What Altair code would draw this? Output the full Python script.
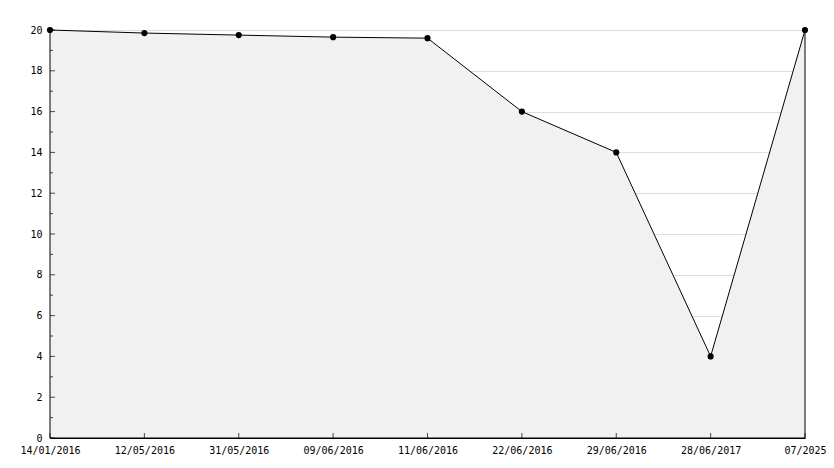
import altair as alt
import pandas as pd

dates = ["14/01/2016", "12/05/2016", "31/05/2016", "09/06/2016", "11/06/2016",
         "22/06/2016", "29/06/2016", "28/06/2017", "07/2025"]
values = [20, 19.85, 19.75, 19.65, 19.6, 16, 14, 4, 20]
major_ticks = [0, 2, 4, 6, 8, 10, 12, 14, 16, 18, 20]
minor_ticks = [1, 3, 5, 7, 9, 11, 13, 15, 17, 19]

df = pd.DataFrame({"date": dates, "value": values})
df_major = pd.DataFrame({"v": major_ticks})
df_minor = pd.DataFrame({"v": minor_ticks})

FONT = "DejaVu Sans Mono"
W, H = 755, 408

xscale = alt.Scale(type="point", padding=0, domain=dates)
yscale = alt.Scale(domain=[0, 20], nice=False, zero=True)

x_enc = alt.X("date:N", sort=None, scale=xscale,
              axis=alt.Axis(title=None, labelAngle=0, tickSize=0, labelPadding=7,
                            labelOverlap=False, labelBound=False, grid=False,
                            domainColor="black", labelColor="black",
                            labelFont=FONT, labelFontSize=10))
y_enc = alt.Y("value:Q", scale=yscale,
              axis=alt.Axis(title=None, values=major_ticks, tickSize=0, labelPadding=8,
                            grid=True, gridColor="#dddddd", domainColor="black",
                            labelColor="black", labelFont=FONT, labelFontSize=10))

area = alt.Chart(df).mark_area(color="#f1f1f1", stroke="black", strokeWidth=1).encode(
    x=x_enc, y=y_enc)
pts = alt.Chart(df).mark_point(filled=True, shape="circle", size=38, color="black", opacity=1).encode(
    x=alt.X("date:N", sort=None, scale=xscale), y=alt.Y("value:Q", scale=yscale))

ymaj = alt.Chart(df_major).mark_tick(orient="horizontal", color="black", thickness=1, size=5).encode(
    y=alt.Y("v:Q", scale=yscale), x=alt.value(2.5))
ymin = alt.Chart(df_minor).mark_tick(orient="horizontal", color="black", thickness=1, size=3).encode(
    y=alt.Y("v:Q", scale=yscale), x=alt.value(1.5))
xt = alt.Chart(df).mark_tick(orient="vertical", color="black", thickness=1, size=5).encode(
    x=alt.X("date:N", sort=None, scale=xscale), y=alt.value(H - 2.5))

chart = alt.layer(area, ymaj, ymin, xt, pts).properties(
    width=W, height=H,
    autosize=alt.AutoSizeParams(type="none"),
    padding={"left": 42, "top": 22, "right": 21, "bottom": 20},
    background="white",
).configure_view(strokeWidth=0)

chart.save("out.html", embed_options={"renderer": "svg", "actions": False})
